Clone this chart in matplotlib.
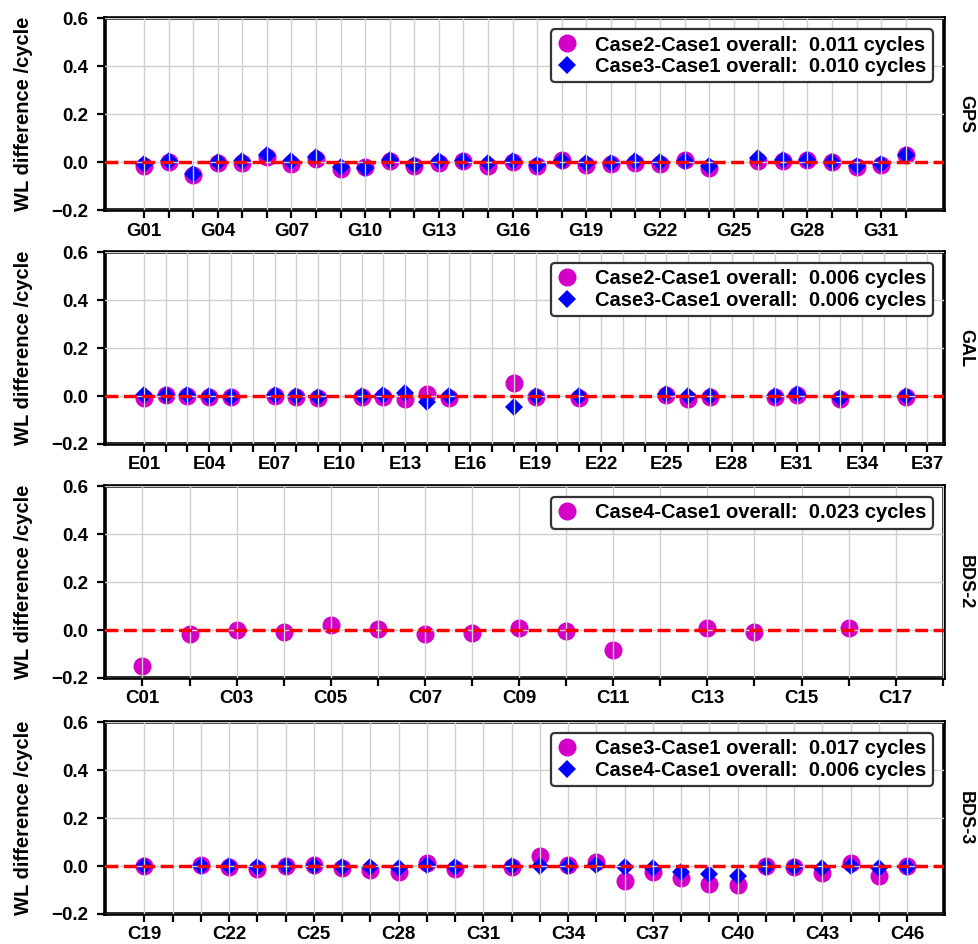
import matplotlib
matplotlib.use('Agg')
import matplotlib.pyplot as plt

plt.rcParams['font.family'] = ['Liberation Sans', 'DejaVu Sans']
plt.rcParams['font.weight'] = 'bold'
plt.rcParams['axes.labelweight'] = 'bold'

MAGENTA = '#d400c8'
BLUE = '#0000ff'

# GPS, G01-G32 (no G25)
gps_prn = list(range(1, 25)) + list(range(26, 33))
gps_case2 = [-0.018, 0.002, -0.055, -0.005, -0.004, 0.022, -0.008, 0.015, -0.028, -0.022,
             0.003, -0.018, -0.003, 0.006, -0.016, -0.001, -0.018, 0.008, -0.011, -0.008,
             -0.004, -0.007, 0.010, -0.025, 0.003, 0.005, 0.008, -0.001, -0.022, -0.014, 0.028]
gps_case3 = [-0.008, 0.003, -0.048, 0.001, 0.003, 0.028, 0.003, 0.021, -0.020, -0.025,
             0.008, -0.012, 0.005, 0.003, -0.004, 0.005, -0.012, 0.005, -0.004, -0.004,
             0.005, 0.001, 0.005, -0.015, 0.016, 0.007, 0.007, 0.001, -0.015, -0.007, 0.031]

# Galileo
gal_prn = [1, 2, 3, 4, 5, 7, 8, 9, 11, 12, 13, 14, 15, 18, 19, 21, 25, 26, 27, 30, 31, 33, 36]
gal_case2 = [-0.008, 0.003, 0.0, -0.005, -0.005, 0.0, -0.006, -0.007, -0.003, -0.002, -0.013,
             0.010, -0.008, 0.054, -0.002, -0.010, 0.003, -0.011, -0.004, -0.006, 0.005,
             -0.014, -0.004]
gal_case3 = [0.003, 0.005, 0.003, 0.002, -0.003, 0.005, 0.0, -0.003, 0.0, 0.005, 0.012,
             -0.025, 0.0, -0.046, 0.0, 0.0, 0.010, -0.001, 0.0, 0.001, 0.008, -0.007, 0.0]

# BDS-2
bds2_prn = [1, 2, 3, 4, 5, 6, 7, 8, 9, 10, 11, 13, 14, 16]
bds2_case4 = [-0.152, -0.016, -0.001, -0.006, 0.021, 0.006, -0.016, -0.011, 0.009, -0.004,
              -0.084, 0.007, -0.010, 0.007]

# BDS-3
bds3_prn = [19] + list(range(21, 31)) + list(range(32, 47))
bds3_case3 = [0.0, 0.005, -0.002, -0.013, -0.001, 0.004, -0.009, -0.016, -0.026, 0.014,
              -0.012, -0.005, 0.041, 0.004, 0.018, -0.062, -0.023, -0.051, -0.073, -0.078,
              0.0, -0.003, -0.027, 0.011, -0.041, 0.0]
bds3_case4 = [0.0, 0.0, -0.001, -0.005, 0.0, 0.001, -0.003, -0.005, -0.007, 0.004,
              -0.005, 0.0, 0.0, 0.0, 0.005, -0.005, -0.010, -0.026, -0.034, -0.040,
              -0.003, -0.002, -0.009, 0.001, -0.010, -0.004]

panels = [
    dict(name='GPS', sys='G', prn=gps_prn, ticks=range(1, 33), step=3, xlim=(-0.6, 33.55),
         circ=gps_case2, circ_label='Case2-Case1 overall:  0.011 cycles',
         diam=gps_case3, diam_label='Case3-Case1 overall:  0.010 cycles'),
    dict(name='GAL', sys='E', prn=gal_prn, ticks=range(1, 38), step=3, xlim=(-0.8, 37.75),
         circ=gal_case2, circ_label='Case2-Case1 overall:  0.006 cycles',
         diam=gal_case3, diam_label='Case3-Case1 overall:  0.006 cycles'),
    dict(name='BDS-2', sys='C', prn=bds2_prn, ticks=range(1, 19), step=2, xlim=(0.2, 18.02),
         circ=bds2_case4, circ_label='Case4-Case1 overall:  0.023 cycles',
         diam=None, diam_label=None),
    dict(name='BDS-3', sys='C', prn=bds3_prn, ticks=range(19, 47), step=3, xlim=(17.6, 47.3),
         circ=bds3_case3, circ_label='Case3-Case1 overall:  0.017 cycles',
         diam=bds3_case4, diam_label='Case4-Case1 overall:  0.006 cycles'),
]

fig = plt.figure(figsize=(9.79, 9.44), dpi=100)
bottoms = [0.7775, 0.5297, 0.2818, 0.0318]

for p, b in zip(panels, bottoms):
    ax = fig.add_axes([0.107, b, 0.857, 0.203])
    ax.plot(p['prn'], p['circ'], 'o', color=MAGENTA, ms=13, mew=0,
            label=p['circ_label'], zorder=2)
    if p['diam'] is not None:
        ax.plot(p['prn'], p['diam'], 'D', color=BLUE, ms=8.8, mew=0,
                label=p['diam_label'], zorder=2.1)
    ax.axhline(0, color='red', ls='--', lw=2.5, zorder=3)

    ticks = list(p['ticks'])
    ax.set_xticks(ticks)
    ax.set_xticklabels(['%s%02d' % (p['sys'], t) if (t - ticks[0]) % p['step'] == 0 else ''
                        for t in ticks])
    ax.set_xlim(*p['xlim'])
    ax.set_ylim(-0.2, 0.6)
    ax.set_yticks([-0.2, 0.0, 0.2, 0.4, 0.6])

    ax.set_axisbelow(False)
    ax.grid(True, color='#cfcfcf', lw=1.0, zorder=2.5)
    for s in ax.spines.values():
        s.set_linewidth(2.6)
    ax.tick_params(labelsize=13.5, length=6, width=1.6)
    ax.tick_params(axis='y', pad=6)
    ax.tick_params(axis='x', pad=3)

    ax.set_ylabel('WL difference /cycle', fontsize=14.5, fontweight='bold')
    ax.yaxis.set_label_coords(-0.085, 0.5)
    ax.text(1.026, 0.5, p['name'], transform=ax.transAxes, rotation=270,
            ha='center', va='center', fontsize=13, fontweight='bold')

    leg = ax.legend(loc='upper right', fontsize=14.5, handlelength=1.0, handletextpad=0.9,
                    labelspacing=0.12, borderpad=0.3, borderaxespad=0.55,
                    framealpha=1, fancybox=True)
    leg.get_frame().set_edgecolor('#333333')
    leg.get_frame().set_linewidth(1.6)

fig.savefig('out.png', dpi=100)
